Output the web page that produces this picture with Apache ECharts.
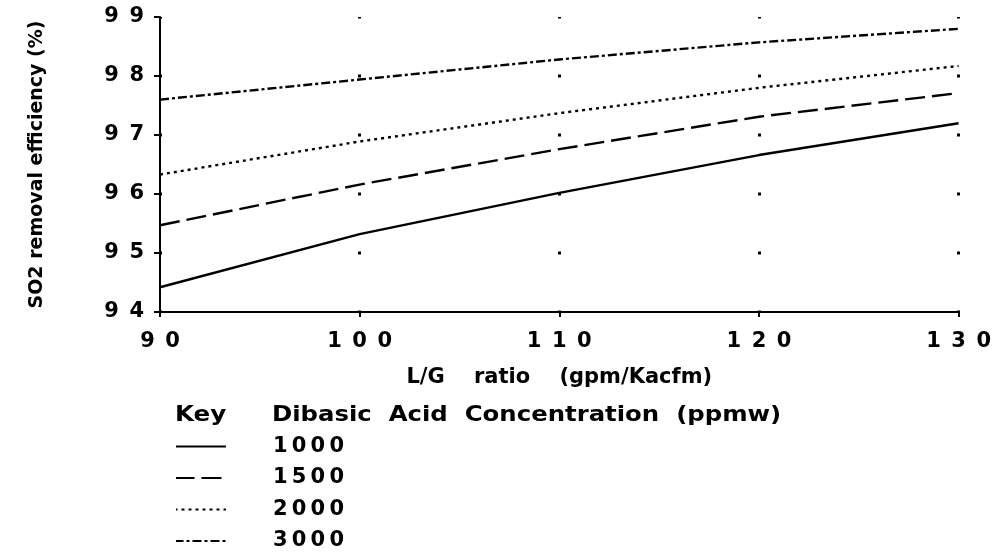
<!DOCTYPE html>
<html>
<head>
<meta charset="utf-8">
<script src="https://cdn.jsdelivr.net/npm/echarts@6/dist/echarts.min.js"></script>
<style>
  html, body { margin: 0; padding: 0; background: #fff; }
  #main { width: 994px; height: 553px; }
</style>
</head>
<body>
<div id="main"></div>
<script>
// L/G ratio (gpm/Kacfm)
var lgRatio = [90, 100, 110, 120, 130];
// SO2 removal efficiency (%) per dibasic acid concentration
var eff1000 = [94.42, 95.32, 96.02, 96.66, 97.20];
var eff1500 = [95.47, 96.16, 96.76, 97.31, 97.71];
var eff2000 = [96.33, 96.89, 97.37, 97.80, 98.17];
var eff3000 = [97.60, 97.94, 98.28, 98.57, 98.80];
var seriesNames = ['1000', '1500', '2000', '3000'];

var font = 'DejaVu Sans';

// the scan prints digits with wide tracking
function spaced(v) {
    return String(v).split('').join('\u2002');
}
function tight(v) {
    return String(v).split('').join('\u2009');
}
function pairs(ys) {
    return lgRatio.map(function (x, i) { return [x, ys[i]]; });
}

var myChart = echarts.init(document.getElementById('main'));

var option = {
    backgroundColor: '#fff',
    animation: false,
    grid: {
        left: 160,
        right: 34,
        top: 17,
        bottom: 241
    },
    xAxis: {
        type: 'value',
        min: 90,
        max: 130,
        interval: 10,
        name: 'L/G    ratio    (gpm/Kacfm)',
        nameLocation: 'middle',
        nameGap: 55,
        nameTextStyle: { color: '#000', fontFamily: font, fontWeight: 'bold', fontSize: 21 },
        axisLine: { lineStyle: { color: '#000', width: 2 } },
        axisTick: { show: true, length: 5, lineStyle: { color: '#000', width: 2 } },
        axisLabel: {
            margin: 19,
            color: '#000',
            fontFamily: font,
            fontWeight: 'bold',
            fontSize: 21,
            formatter: spaced
        },
        splitLine: {                 // dotted grid: one dot per y tick
            show: true,
            lineStyle: { color: '#000', width: 3, type: [3, 56], dashOffset: 1.5 }
        }
    },
    yAxis: {
        type: 'value',
        min: 94,
        max: 99,
        interval: 1,
        name: 'SO2 removal efficiency (%)',
        nameLocation: 'middle',
        nameRotate: 90,
        nameGap: 113,
        nameTextStyle: { color: '#000', fontFamily: font, fontWeight: 'bold', fontSize: 19 },
        axisLine: { show: true, lineStyle: { color: '#000', width: 2 } },
        axisTick: { show: true, length: 6, lineStyle: { color: '#000', width: 2 } },
        axisLabel: {
            margin: 16,
            color: '#000',
            fontFamily: font,
            fontWeight: 'bold',
            fontSize: 21,
            formatter: spaced
        },
        splitLine: { show: false }
    },
    legend: {
        orient: 'vertical',
        left: 175,
        top: 436,
        height: 117,
        padding: 0,
        itemWidth: 50,
        itemHeight: 20,
        itemGap: 10.5,
        data: seriesNames,
        formatter: tight,
        itemStyle: { opacity: 0 },   // line sample only, no marker
        textStyle: {
            color: '#000',
            fontFamily: font,
            fontWeight: 'bold',
            fontSize: 21,
            lineHeight: 20,
            padding: [0, 0, 0, 42]
        }
    },
    graphic: [
        {
            type: 'text', left: 175, top: 405, scaleX: 1.17,
            style: { text: 'Key', fill: '#000', font: 'bold 21px "DejaVu Sans"' }
        },
        {
            type: 'text', left: 272, top: 405, scaleX: 1.16,
            style: { text: 'Dibasic  Acid  Concentration  (ppmw)', fill: '#000', font: 'bold 21px "DejaVu Sans"' }
        }
    ],
    series: [
        {
            name: '1000', type: 'line', symbol: 'none', data: pairs(eff1000),
            lineStyle: { color: '#000', width: 2.4, type: 'solid' }, itemStyle: { color: '#000' }
        },
        {
            name: '1500', type: 'line', symbol: 'none', data: pairs(eff1500),
            lineStyle: { color: '#000', width: 2.4, type: [20, 7] }, itemStyle: { color: '#000' }
        },
        {
            name: '2000', type: 'line', symbol: 'none', data: pairs(eff2000),
            lineStyle: { color: '#000', width: 2.4, type: [3, 4] }, itemStyle: { color: '#000' }
        },
        {
            name: '3000', type: 'line', symbol: 'none', data: pairs(eff3000),
            lineStyle: { color: '#000', width: 2.4, type: [9, 3, 3, 3] }, itemStyle: { color: '#000' }
        }
    ]
};

option && myChart.setOption(option);
</script>
</body>
</html>
